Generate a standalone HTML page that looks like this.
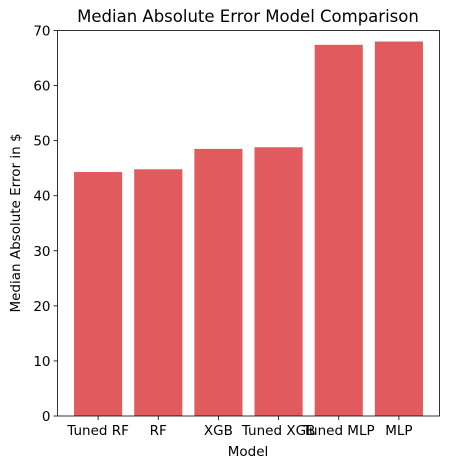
<!DOCTYPE html>
<html><head><meta charset="utf-8"><style>
body{margin:0;background:#fff;}
svg{display:block;font-family:"DejaVu Sans","Liberation Sans",sans-serif;}
</style></head><body>
<svg id="chart" width="454" height="468">
<text x="248" y="22" text-anchor="middle" font-size="16.5">Median Absolute Error Model Comparison</text>
<g id="bars"></g>
<g id="axes"></g>
<text x="248" y="456" text-anchor="middle" font-size="13.5">Model</text>
<text transform="translate(20,223) rotate(-90)" text-anchor="middle" font-size="13.5">Median Absolute Error in $</text>
</svg>
<script>
const categories=["Tuned RF","RF","XGB","Tuned XGB","Tuned MLP","MLP"];
const values=[44.3,44.8,48.5,48.8,67.4,68.0];
const yTicks=[0,10,20,30,40,50,60,70];
const L=57.5,R=439.5,T=30.5,B=416;
const yMax=70;
function y(v){return B-(v/yMax)*(B-T);}
const xmin=-0.675,xmax=5.675;
function x(i){return L+(i-xmin)/(xmax-xmin)*(R-L);}
const ns="http://www.w3.org/2000/svg";
const bars=document.getElementById('bars'),axes=document.getElementById('axes');
function mk(tag,at,parent){const e=document.createElementNS(ns,tag);for(const k in at)e.setAttribute(k,at[k]);parent.appendChild(e);return e;}
const bw=(x(0.8)-x(0));
categories.forEach((c,i)=>{
  const r=mk('rect',{x:x(i)-bw/2,y:y(values[i]),width:bw,height:B-y(values[i]),fill:'#e15b5e'},bars);
  
  
  mk('line',{x1:x(i),x2:x(i),y1:B,y2:B+4,stroke:'#000','stroke-width':0.8},axes);
  const t=mk('text',{x:x(i),y:B+19,'text-anchor':'middle','font-size':13.5},axes);
  t.textContent=c;
  
  
});
yTicks.forEach(v=>{
  mk('line',{x1:L-4,x2:L,y1:y(v),y2:y(v),stroke:'#000','stroke-width':0.8},axes);
  const t=mk('text',{x:L-7,y:y(v)+5,'text-anchor':'end','font-size':13.5},axes);
  t.textContent=v;
  
  
});
const f=mk('rect',{x:L,y:T,width:R-L,height:B-T,fill:'none',stroke:'#000','stroke-width':0.8},axes);


</script>
</body></html>
